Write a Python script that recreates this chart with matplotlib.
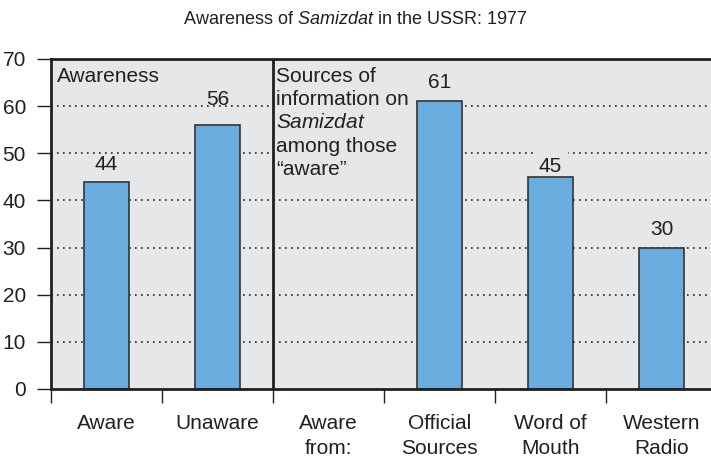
import matplotlib
matplotlib.use('Agg')
import matplotlib.pyplot as plt

# data
categories = ['Aware', 'Unaware', 'Aware\nfrom:', 'Official\nSources', 'Word of\nMouth', 'Western\nRadio']
values = [44, 56, None, 61, 45, 30]
y_ticks = [0, 10, 20, 30, 40, 50, 60, 70]

# gap (points) between each bar top and its value label, as drawn in the original
label_gap = [8, 14.4, None, 10, 3.6, 9.4]

bg = '#e6e7e9'
bar_color = '#6aacde'
ink = '#231f20'
fs = 15

plt.rcParams['font.family'] = ['Liberation Sans', 'DejaVu Sans']
plt.rcParams['mathtext.fontset'] = 'custom'
plt.rcParams['mathtext.rm'] = 'Liberation Sans'
plt.rcParams['mathtext.it'] = 'Liberation Sans:italic'
plt.rcParams['text.color'] = ink

fig = plt.figure(figsize=(7.11, 4.58), dpi=100)
ax = fig.add_axes([51 / 711, 1 - 389 / 458, 1 - 51 / 711, 330 / 458])
ax.set_facecolor(bg)

xs = [i for i, v in enumerate(values) if v is not None]
hs = [v for v in values if v is not None]
ax.bar(xs, hs, width=0.4, color=bar_color, edgecolor='#333333', linewidth=1.2, zorder=3)

for i, v in enumerate(values):
    if v is None:
        continue
    # the "45" label knocks out the gridline above it in the original
    box = dict(facecolor=bg, edgecolor='none', pad=4) if v == 45 else None
    ax.annotate(str(v), (i, v), xytext=(0, label_gap[i]), textcoords='offset points',
                ha='center', va='baseline', fontsize=fs, color=ink, bbox=box, zorder=2)

# dotted grid
for y in y_ticks[1:-1]:
    ax.axhline(y, color=ink, linestyle=(0, (1, 2.6)), linewidth=1.2, zorder=1)

# divider between the two panels
ax.axvline(1.5, color=ink, linewidth=2, zorder=5)

ax.set_xlim(-0.5, -0.5 + 660 / 111)
ax.set_ylim(0, 70)
ax.set_yticks(y_ticks)
ax.tick_params(axis='y', length=10, width=1, pad=8, labelsize=fs, colors=ink)

bounds = [i - 0.5 for i in range(len(categories))]
ax.set_xticks(bounds)
ax.set_xticklabels([''] * len(bounds))
ax.set_xticks(range(len(categories)), minor=True)
ax.set_xticklabels(categories, minor=True, fontsize=fs, linespacing=1.4)
ax.tick_params(axis='x', which='major', length=10, width=1, colors=ink)
ax.tick_params(axis='x', which='minor', length=0, pad=18, colors=ink)

for s in ['left', 'top', 'bottom']:
    ax.spines[s].set_linewidth(2)
    ax.spines[s].set_color(ink)
    ax.spines[s].set_zorder(6)
ax.spines['right'].set_visible(False)

ax.text(6 / 660, 0.975, 'Awareness', transform=ax.transAxes, ha='left', va='top',
        fontsize=fs, zorder=4)
ax.text(1.5 + 3 / 111, 68.3,
        'Sources of\ninformation on\n$\\it{Samizdat}$\namong those\n\u201caware\u201d',
        ha='left', va='top', fontsize=fs, linespacing=1.28, zorder=2,
        bbox=dict(facecolor=bg, edgecolor='none', pad=5))

fig.text(0.5, 1 - 20 / 458, 'Awareness of $\\it{Samizdat}$ in the USSR: 1977',
         ha='center', va='center', fontsize=13)

fig.savefig('out.png', dpi=100)
